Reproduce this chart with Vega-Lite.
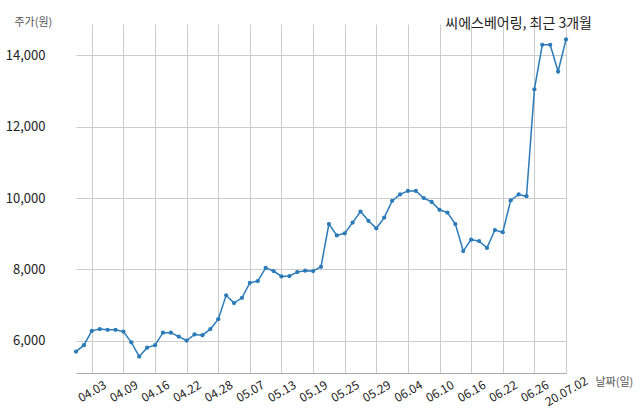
{
  "$schema": "https://vega.github.io/schema/vega-lite/v6.json",
  "autosize": {"type": "none"},
  "width": 545,
  "height": 349,
  "padding": {"left": 47, "top": 24, "right": 48, "bottom": 41},
  "background": "white",
  "config": {"view": {"stroke": null}, "font": "Noto Sans CJK KR"},
  "title": {
    "text": "씨에스베어링, 최근 3개월",
    "anchor": "end",
    "frame": "group",
    "fontSize": 14,
    "fontWeight": "normal",
    "color": "#222222",
    "font": "Noto Sans CJK KR",
    "baseline": "middle",
    "offset": -22
  },
  "data": {
    "values": [
      {"date": "04.01", "price": 5690}, {"date": "04.02", "price": 5870}, {"date": "04.03", "price": 6270},
      {"date": "04.06", "price": 6320}, {"date": "04.07", "price": 6300}, {"date": "04.08", "price": 6300},
      {"date": "04.09", "price": 6250}, {"date": "04.10", "price": 5950}, {"date": "04.13", "price": 5550},
      {"date": "04.14", "price": 5800}, {"date": "04.16", "price": 5870}, {"date": "04.17", "price": 6220},
      {"date": "04.20", "price": 6220}, {"date": "04.21", "price": 6110}, {"date": "04.22", "price": 6000},
      {"date": "04.23", "price": 6170}, {"date": "04.24", "price": 6150}, {"date": "04.27", "price": 6320},
      {"date": "04.28", "price": 6600}, {"date": "04.29", "price": 7270}, {"date": "05.04", "price": 7050},
      {"date": "05.06", "price": 7200}, {"date": "05.07", "price": 7620}, {"date": "05.08", "price": 7670},
      {"date": "05.11", "price": 8040}, {"date": "05.12", "price": 7950}, {"date": "05.13", "price": 7800},
      {"date": "05.14", "price": 7810}, {"date": "05.15", "price": 7920}, {"date": "05.18", "price": 7960},
      {"date": "05.19", "price": 7950}, {"date": "05.20", "price": 8070}, {"date": "05.21", "price": 9270},
      {"date": "05.22", "price": 8950}, {"date": "05.25", "price": 9010}, {"date": "05.26", "price": 9310},
      {"date": "05.27", "price": 9620}, {"date": "05.28", "price": 9360}, {"date": "05.29", "price": 9150},
      {"date": "06.01", "price": 9450}, {"date": "06.02", "price": 9920}, {"date": "06.03", "price": 10100},
      {"date": "06.04", "price": 10200}, {"date": "06.05", "price": 10200}, {"date": "06.08", "price": 10000},
      {"date": "06.09", "price": 9890}, {"date": "06.10", "price": 9670}, {"date": "06.11", "price": 9590},
      {"date": "06.12", "price": 9270}, {"date": "06.15", "price": 8510}, {"date": "06.16", "price": 8830},
      {"date": "06.17", "price": 8790}, {"date": "06.18", "price": 8600}, {"date": "06.19", "price": 9100},
      {"date": "06.22", "price": 9040}, {"date": "06.23", "price": 9930}, {"date": "06.24", "price": 10100},
      {"date": "06.25", "price": 10050}, {"date": "06.26", "price": 13050}, {"date": "06.29", "price": 14300},
      {"date": "06.30", "price": 14300}, {"date": "07.01", "price": 13550}, {"date": "07.02", "price": 14450}
    ]
  },
  "mark": {
    "type": "line",
    "color": "#2b7bb9",
    "strokeWidth": 1.5,
    "point": {"filled": true, "size": 18, "color": "#2b7bb9"}
  },
  "encoding": {
    "x": {
      "field": "date",
      "type": "ordinal",
      "sort": null,
      "scale": {"type": "point", "padding": 0, "range": [29, 519]},
      "axis": {
        "values": ["04.03", "04.09", "04.16", "04.22", "04.28", "05.07", "05.13", "05.19", "05.25", "05.29", "06.04", "06.10", "06.16", "06.22", "06.26", "07.02"],
        "labelExpr": "datum.value == '07.02' ? '20.07.02' : datum.value",
        "labelAngle": -30,
        "labelAlign": "center",
        "labelBaseline": "middle",
        "labelPadding": 18,
        "labelFontSize": 12,
        "labelColor": "#222222",
        "labelFont": "Noto Sans CJK KR",
        "labelOverlap": false,
        "ticks": false,
        "grid": true,
        "gridColor": "#cccccc",
        "gridWidth": 1,
        "domain": true,
        "domainColor": "#aaaaaa",
        "domainWidth": 1,
        "title": "날짜(일)",
        "titleFontSize": 11,
        "titleFontWeight": "normal",
        "titleColor": "#555555",
        "titleFont": "Noto Sans CJK KR",
        "titleAngle": 0,
        "titleAlign": "left",
        "titleBaseline": "middle",
        "titleX": 548,
        "titleY": 9
      }
    },
    "y": {
      "field": "price",
      "type": "quantitative",
      "scale": {"domain": [5088, 14884], "nice": false, "zero": false},
      "axis": {
        "values": [6000, 8000, 10000, 12000, 14000],
        "format": ",d",
        "labelFontSize": 13,
        "labelColor": "#222222",
        "labelFont": "Noto Sans CJK KR",
        "labelPadding": 2,
        "ticks": false,
        "domain": false,
        "grid": true,
        "gridColor": "#cccccc",
        "gridWidth": 1,
        "title": "주가(원)",
        "titleFontSize": 11,
        "titleFontWeight": "normal",
        "titleColor": "#555555",
        "titleFont": "Noto Sans CJK KR",
        "titleAngle": 0,
        "titleAlign": "left",
        "titleBaseline": "middle",
        "titleX": -33,
        "titleY": -2
      }
    }
  }
}
